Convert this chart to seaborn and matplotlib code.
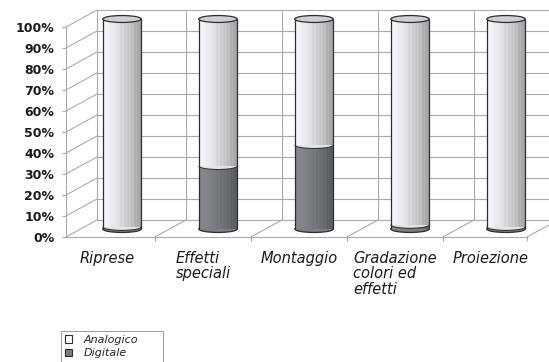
import numpy as np
import pandas as pd
import matplotlib
matplotlib.use('Agg')
import matplotlib.pyplot as plt
import matplotlib.transforms as mtrans
from matplotlib.patches import Ellipse, Arc, Patch, Rectangle
import seaborn as sns

# data
categories = ['Riprese', 'Effetti\nspeciali', 'Montaggio',
              'Gradazione\ncolori ed\neffetti', 'Proiezione']
digitale = [1, 30, 40, 2, 1]
analogico = [100 - d for d in digitale]
series_names = ['Analogico', 'Digitale']
yticks = list(range(0, 101, 10))
ytick_labels = [f'{v}%' for v in yticks]

sns.set_style('white')
plt.rcParams['font.family'] = ['DejaVu Sans']

W, H = 549, 362
fig = plt.figure(figsize=(W / 100, H / 100), dpi=100)
ax = fig.add_axes([66 / W, 125 / H, 461 / W, 210 / H])

df = pd.DataFrame({'cat': categories,
                   'tot': [a + d for a, d in zip(analogico, digitale)],
                   'dig': digitale})

light = '#e2e4e7'
dark = '#7b7f83'
edge = '#2e2e2e'
wall = '#ababab'
bw = 0.4

sns.barplot(data=df, x='cat', y='tot', color=light, width=bw, ax=ax,
            saturation=1, zorder=3)
sns.barplot(data=df, x='cat', y='dig', color=dark, width=bw, ax=ax,
            saturation=1, zorder=3.2)

XL = (-0.427, 4.375)
ax.set_xlim(*XL)
ax.set_ylim(0, 100)
ax.autoscale(False)

back = mtrans.offset_copy(ax.transData, fig=fig, x=31, y=17, units='dots')
mid = mtrans.offset_copy(ax.transData, fig=fig, x=15, y=8, units='dots')
ident = mtrans.IdentityTransform()

# cylinder shading
xs = np.linspace(0, 1, 60)
shade = np.interp(xs, [0, 0.15, 0.45, 0.7, 1], [1.0, 0.98, 0.9, 0.82, 0.66])
stripes = 1 - 0.05 * (np.sin(xs * 70) > 0.3) * (xs > 0.45)
shade = shade * stripes


def grad(base):
    rgb = np.array(matplotlib.colors.to_rgb(base))
    g = np.clip(rgb[None, :] * shade[:, None] * 1.08, 0, 1)
    return g[None, :, :]


n = len(categories)
patches = list(ax.patches)
for k, p in enumerate(patches):
    p.set_transform(mid)
    p.set_linewidth(0)
    p.set_clip_on(False)
    x0, y0, w, h = p.get_x(), p.get_y(), p.get_width(), p.get_height()
    base = light if k < n else dark
    im = ax.imshow(grad(base), extent=[x0, x0 + w, y0, y0 + h],
                   aspect='auto', transform=mid, zorder=p.get_zorder() + 0.05,
                   interpolation='bilinear')
    im.set_clip_path(p)

ax.set_xlim(*XL)
ax.set_ylim(0, 100)

eh = 3.3
for i, d in enumerate(digitale):
    ax.add_patch(Ellipse((i, 0), bw, eh, facecolor=dark, edgecolor=edge,
                         lw=0.9, transform=mid, zorder=2.9, clip_on=False))
    ax.add_patch(Ellipse((i, 100), bw, eh, facecolor='#cdd0d4', edgecolor=edge,
                         lw=0.9, transform=mid, zorder=3.6, clip_on=False))
    cover = Ellipse((i, d), bw, eh, facecolor='#e2e4e6', edgecolor='none',
                    transform=mid, zorder=3.4)
    ax.add_patch(cover)
    clip = Rectangle((i - bw / 2, d - eh / 2), bw, eh / 2, transform=mid)
    cover.set_clip_path(clip)
    ax.add_patch(Arc((i, d), bw, eh, theta1=180, theta2=360, color=edge,
                     lw=0.7, transform=mid, zorder=3.5, clip_on=False))
    for sx in (i - bw / 2, i + bw / 2):
        ax.plot([sx, sx], [0, 100], color=edge, lw=0.9, transform=mid,
                zorder=3.5, solid_capstyle='butt', clip_on=False)

# back wall
bounds = [XL[0]] + [b + 0.5 for b in range(n - 1)] + [XL[1]]
for v in yticks:
    ax.plot([XL[0], 6], [v, v], color=wall, lw=0.8, transform=back,
            clip_on=False, zorder=1)
for b in bounds:
    ax.plot([b, b], [0, 100], color=wall, lw=0.8, transform=back,
            clip_on=False, zorder=1)


# side wall and floor diagonals
def diag(xd, yd):
    p1 = ax.transData.transform((xd, yd))
    p2 = back.transform((xd, yd))
    ax.plot([p1[0], p2[0]], [p1[1], p2[1]], color=wall, lw=0.8,
            transform=ident, clip_on=False, zorder=1)


for v in yticks:
    diag(XL[0], v)
for b in bounds[1:]:
    diag(b, 0)

# spines and ticks
sns.despine(ax=ax, top=True, right=True)
for s in ('left', 'bottom'):
    ax.spines[s].set_color(wall)
    ax.spines[s].set_linewidth(0.8)

ax.set_yticks(yticks)
ax.set_yticklabels(ytick_labels, fontsize=9, fontweight='bold', color='#1a1a1a')
ax.tick_params(axis='y', length=2.9, width=0.8, color=wall, pad=5.5, left=True)
ax.set_xticks(range(n))
ax.set_xticklabels(categories, fontsize=10.5, style='italic', color='#1a1a1a',
                   linespacing=1.05, multialignment='left')
ax.tick_params(axis='x', length=0, pad=10)
ax.set_xticks(bounds[1:], minor=True)
ax.tick_params(axis='x', which='minor', length=3, width=0.8, color=wall,
               bottom=True)
ax.set_xlabel('')
ax.set_ylabel('')
ax.grid(False)

handles = [Patch(facecolor='white', edgecolor=edge, lw=0.8),
           Patch(facecolor=dark, edgecolor=edge, lw=0.8)]
leg = fig.legend(handles, series_names, loc='upper left',
                 bbox_to_anchor=(61 / W, 1 - 331 / H - 0.2, 102 / W, 0.2),
                 mode='expand', frameon=True,
                 fancybox=False, framealpha=1, edgecolor='#999999',
                 prop={'size': 8, 'style': 'italic'}, handlelength=0.65,
                 handleheight=0.65, borderpad=0.35, labelspacing=0.3,
                 handletextpad=1.0, borderaxespad=0)
leg.get_frame().set_linewidth(0.7)

fig.savefig('out.png', dpi=100)
